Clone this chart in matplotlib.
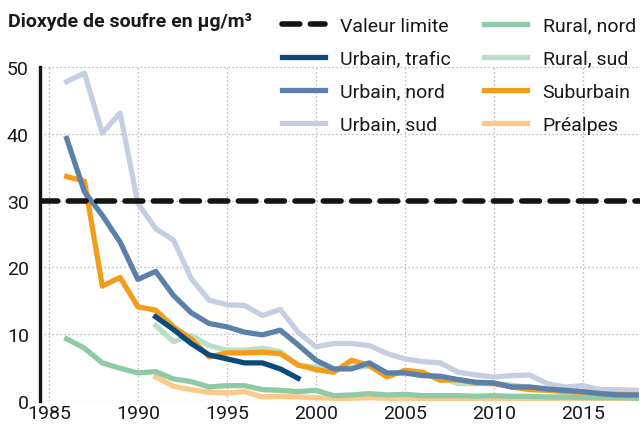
import matplotlib.pyplot as plt

# Teneur en SO2, moyennes annuelles (µg/m3)
years_a = list(range(1986, 2019))
years_b = list(range(1991, 2019))
years_trafic = list(range(1991, 2000))

urbain_sud = [47.8, 49.1, 40.1, 43.1, 29.6, 25.8, 24.1, 18.3, 15.1, 14.4,
              14.3, 12.8, 13.7, 10.3, 8.1, 8.6, 8.6, 8.3, 7.1, 6.3,
              5.9, 5.7, 4.3, 3.9, 3.6, 3.8, 3.9, 2.6, 2.1, 2.3,
              1.7, 1.7, 1.6]
urbain_nord = [39.3, 31.3, 27.8, 23.8, 18.2, 19.4, 15.8, 13.2, 11.6, 11.1,
               10.3, 9.9, 10.6, 8.4, 6.1, 4.8, 4.8, 5.7, 4.2, 4.2,
               3.8, 3.7, 3.2, 2.8, 2.7, 2.1, 2.1, 1.8, 1.6, 1.4,
               1.1, 0.9, 0.9]
suburbain = [33.6, 32.9, 17.2, 18.5, 14.1, 13.6, 11.1, 9.3, 6.6, 7.2,
             7.2, 7.3, 7.1, 5.4, 4.7, 4.3, 6.1, 5.3, 3.6, 4.6,
             4.3, 3.1, 3.2, 2.7, 2.6, 2.1, 1.7, 1.6, 1.4, 1.3,
             1.1, 1.0, 0.9]
rural_nord = [9.3, 7.9, 5.7, 4.9, 4.2, 4.4, 3.3, 2.9, 2.1, 2.3,
              2.3, 1.7, 1.6, 1.4, 1.6, 0.8, 0.9, 1.1, 0.9, 1.0,
              0.8, 0.8, 0.8, 0.7, 0.8, 0.7, 0.7, 0.6, 0.6, 0.5,
              0.5, 0.5, 0.4]
urbain_trafic = [12.6, 10.7, 8.6, 6.9, 6.3, 5.7, 5.7, 4.8, 3.4]
rural_sud = [11.3, 8.9, 9.8, 8.3, 7.6, 7.6, 7.9, 7.4, 5.3, 5.1,
             4.8, 5.0, 5.2, 4.0, 4.3, 4.0, 3.5, 2.6, 2.6, 2.6,
             2.4, 2.0, 1.7, 1.5, 1.3, 1.2, 1.0, 1.0]
prealpes = [3.6, 2.2, 1.7, 1.3, 1.2, 1.4, 0.6, 0.7, 0.6, 0.5,
            0.4, 0.4, 0.5, 0.4, 0.4, 0.4, 0.3, 0.3, 0.3, 0.3,
            0.3, 0.3, 0.3, 0.2, 0.2, 0.2, 0.2, 0.2]
valeur_limite = 30

plt.rcParams['font.family'] = ['Roboto', 'DejaVu Sans']

fig = plt.figure(figsize=(6.43, 4.35), dpi=100)
ax = fig.add_axes([0.0622, 0.0759, 0.9328, 0.7678])

lw = 3.8
l_pre, = ax.plot(years_b, prealpes, color='#fdc98a', lw=lw, label='Préalpes')
l_rs, = ax.plot(years_b, rural_sud, color='#b9e0c6', lw=lw, label='Rural, sud')
l_rn, = ax.plot(years_a, rural_nord, color='#8fcaa6', lw=lw, label='Rural, nord')
l_us, = ax.plot(years_a, urbain_sud, color='#c6cfe1', lw=lw, label='Urbain, sud')
l_sub, = ax.plot(years_a, suburbain, color='#f59d1b', lw=lw, label='Suburbain')
l_ut, = ax.plot(years_trafic, urbain_trafic, color='#0b4a7c', lw=lw,
                label='Urbain, trafic')
l_un, = ax.plot(years_a, urbain_nord, color='#5b80aa', lw=lw, label='Urbain, nord')
l_lim = ax.axhline(valeur_limite, color='#141412', lw=4, dashes=(3.2, 1.9),
                   dash_capstyle='round', label='Valeur limite')

ax.set_xlim(1984.5, 2018.2)
ax.set_ylim(0, 50)
ax.set_xticks(range(1985, 2016, 5))
ax.set_yticks(range(0, 51, 10))
ax.grid(True, color='#a8a8a8', lw=0.9, linestyle=(0, (1, 2.2)))
ax.set_axisbelow(True)
for s in ['top', 'right', 'bottom']:
    ax.spines[s].set_visible(False)
ax.spines['left'].set_color('#141412')
ax.spines['left'].set_linewidth(2.4)
ax.tick_params(length=0, labelsize=14, colors='#1a1a1a')
ax.tick_params(axis='y', pad=8)
ax.tick_params(axis='x', pad=2)

fig.text(8 / 643, 1 - 22 / 435, 'Dioxyde de soufre en µg/m³',
         fontsize=14, fontweight='bold', va='center', ha='left',
         color='#1a1a1a')

handles = [l_lim, l_ut, l_un, l_us, l_rn, l_rs, l_sub, l_pre]
fig.legend(handles=handles, labels=[h.get_label() for h in handles],
           ncol=2, loc='upper left', bbox_to_anchor=(272 / 643, 1 - 8 / 435),
           frameon=False, fontsize=14, handlelength=2.2, handletextpad=0.8,
           columnspacing=1.72, labelspacing=0.77, borderpad=0,
           labelcolor='#1a1a1a')

fig.savefig('out.png', dpi=100)
